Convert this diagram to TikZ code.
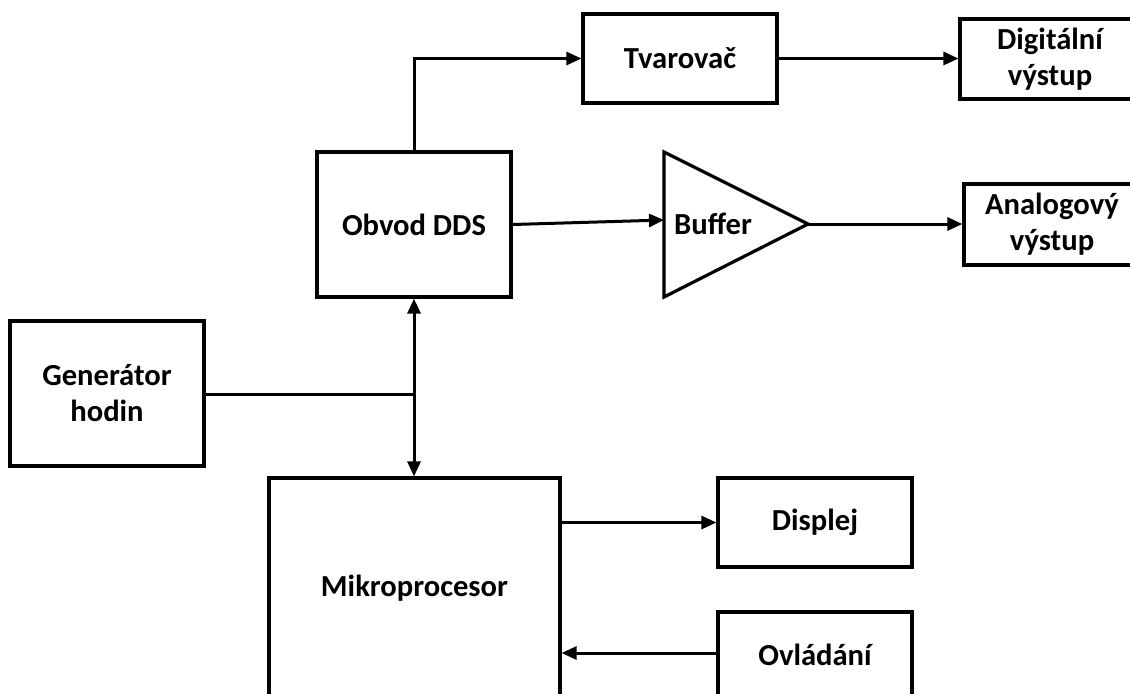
\documentclass[tikz,border=0pt]{standalone}
\usepackage{fontspec}
\setmainfont{Carlito}
\usetikzlibrary{arrows.meta}
\begin{document}
\begin{tikzpicture}[x=0.5pt,y=-0.5pt,
  blk/.style={draw,line width=1.6pt,align=center,font=\fontsize{15.3}{18}\selectfont\bfseries,inner sep=0pt},
  arr/.style={line width=1.5pt,-{Triangle[length=7.5pt,width=6.5pt]}},
  plain/.style={line width=1.5pt}]
\clip (0,0) rectangle (1130,693);
\useasboundingbox (0,0) rectangle (1130,693);
\fill[white] (0,0) rectangle (1130,693);
% blocks
\node[blk,minimum width=97pt,minimum height=44.5pt] (tvar) at (680,58.5) {Tvarovač};
\node[blk,minimum width=90pt,minimum height=40pt] (digi) at (1050,59) {Digitální\\výstup};
\node[blk,minimum width=88pt,minimum height=40.5pt] (ana) at (1052,224.5) {Analogový\\výstup};
\node[blk,minimum width=97pt,minimum height=72.5pt] (dds) at (414,224.5) {Obvod DDS};
\node[blk,minimum width=97pt,minimum height=72.5pt] (gen) at (107,393.5) {Generátor\\hodin};
\node[blk,minimum width=145.5pt,minimum height=110pt] (mikro) at (414.5,588) {Mikroprocesor};
\node[blk,minimum width=97pt,minimum height=44.5pt] (disp) at (815,522.5) {Displej};
\node[blk,minimum width=97pt,minimum height=43pt] (ovl) at (815,655) {Ovládání};
% buffer triangle
\coordinate (bufin) at (664,220);
\coordinate (bufout) at (808,224);
\draw[line width=1.6pt,line join=miter] (664,152) -- (bufout) -- (664,297) -- cycle;
\node[font=\fontsize{15.3}{18}\selectfont\bfseries] (buftxt) at (713,224) {Buffer};
\coordinate (junc) at (414,394);
% connectors
\draw[arr] (dds.north) |- (tvar.west);
\draw[arr] (tvar.east) -- (tvar.east -| digi.west);
\draw[arr] (dds.east) -- (bufin);
\draw[arr] (bufout) -- (bufout -| ana.west);
\draw[plain] (gen.east |- junc) -- (junc);
\draw[line width=1.5pt,{Triangle[length=7.5pt,width=6.5pt]}-{Triangle[length=7.5pt,width=6.5pt]}] (dds.south) -- (dds.south |- mikro.north);
\draw[arr] (mikro.east |- disp.west) -- (disp.west);
\draw[arr] (ovl.west |- 0,653) -- (mikro.east |- 0,653);
\end{tikzpicture}
\end{document}
